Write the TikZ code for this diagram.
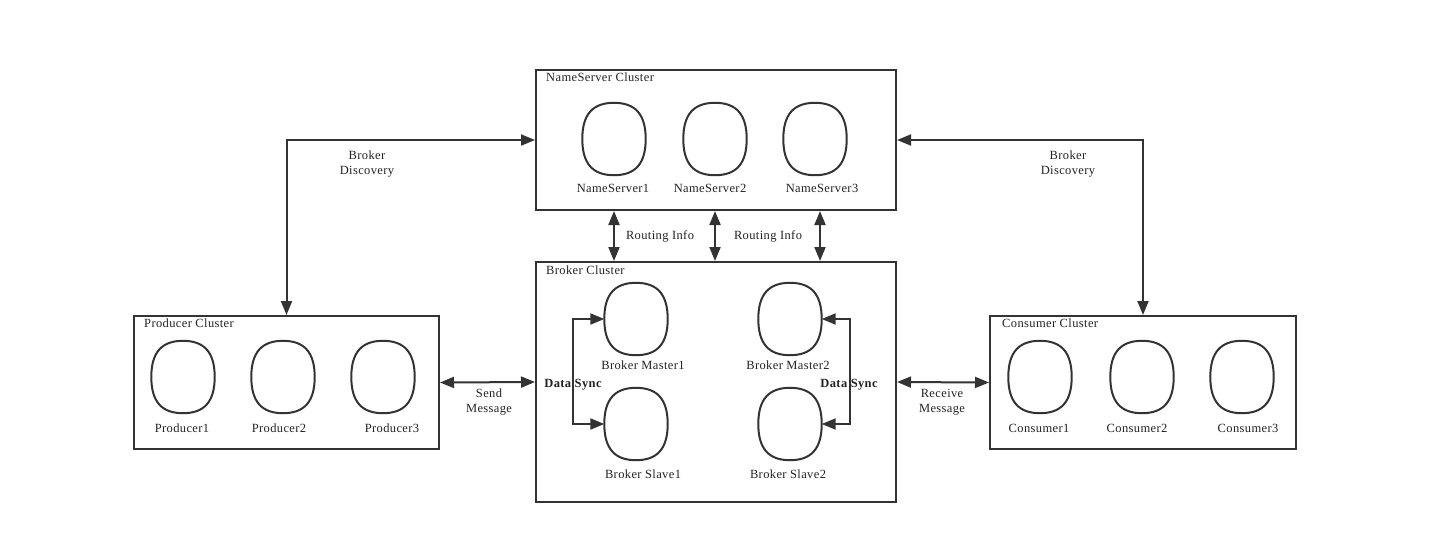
\documentclass[tikz,border=0pt]{standalone}
\usepackage{fontspec}
\setmainfont[LetterSpace=3]{Liberation Serif}
\usetikzlibrary{arrows.meta}
\definecolor{linegray}{HTML}{333333}
\definecolor{txtgray}{HTML}{222222}
% rounded server outline round a named node
\newcommand\srvoval[1]{%
\draw[linegray,line width=2pt] (#1.east)
 .. controls ([yshift=25pt]#1.east) and ([xshift=21pt]#1.north) .. (#1.north)
 .. controls ([xshift=-21pt]#1.north) and ([yshift=25pt]#1.west) .. (#1.west)
 .. controls ([yshift=-25pt]#1.west) and ([xshift=-21pt]#1.south) .. (#1.south)
 .. controls ([xshift=21pt]#1.south) and ([yshift=-25pt]#1.east) .. (#1.east) -- cycle;}

\begin{document}
\begin{tikzpicture}
[%%%%%%%%%%%%%%%%%%%%%%%%%%%%%%
x=1pt,y=-1pt,
cluster/.style={rectangle,draw=linegray,line width=2pt,inner sep=0pt},
srv/.style={rectangle,minimum width=63pt,minimum height=72pt,inner sep=0pt},
lbl/.style={font=\fontsize{12.5}{15}\selectfont,text=txtgray,inner sep=0pt,align=center},
title/.style={lbl,anchor=west},
link/.style={draw=linegray,line width=2pt,{Triangle[length=14pt,width=11pt]}-{Triangle[length=14pt,width=11pt]}},
]%%%%%%%%%%%%%%%%%%%%%%%%%%%%%%
\useasboundingbox (0,0) rectangle (1434,550);

% clusters
\node[cluster,minimum width=360pt,minimum height=140pt] (ns) at (716,140){};
\node[cluster,minimum width=360pt,minimum height=240pt] (brk) at (716,382){};
\node[cluster,minimum width=305pt,minimum height=133pt] (prod) at (286.5,382.5){};
\node[cluster,minimum width=306pt,minimum height=133pt] (cons) at (1143,382.5){};

\node[title] (ns-title) at (546,77){NameServer Cluster};
\node[title] (brk-title) at (546,270){Broker Cluster};
\node[title] (prod-title) at (144,323){Producer Cluster};
\node[title] (cons-title) at (1002,323){Consumer Cluster};

% servers
\foreach \n/\x/\lx/\t in {1/614/613/NameServer1,2/715/710/NameServer2,3/815/822/NameServer3}{
\node[srv] (ns\n) at (\x,139){};
\srvoval{ns\n}
\node[lbl] (ns\n-t) at (\lx,188){\t};
}
\foreach \n/\x/\lx/\t in {1/183/182/Producer1,2/283/279/Producer2,3/383/392/Producer3}{
\node[srv] (p\n) at (\x,377){};
\srvoval{p\n}
\node[lbl] (p\n-t) at (\lx,428){\t};
}
\foreach \n/\x/\lx/\t in {1/1040/1039/Consumer1,2/1142/1137/Consumer2,3/1242/1248/Consumer3}{
\node[srv] (c\n) at (\x,377){};
\srvoval{c\n}
\node[lbl] (c\n-t) at (\lx,428){\t};
}
\foreach \n/\x/\y/\lx/\ly/\t in {bm1/636/319/643/365/Broker Master1,bs1/636/424/643/474/Broker Slave1,
  bm2/790/319/788/365/Broker Master2,bs2/790/424/788/474/Broker Slave2}{
\node[srv] (\n) at (\x,\y){};
\srvoval{\n}
\node[lbl] (\n-t) at (\lx,\ly){\t};
}

% connectors
\draw[link] (ns.west) -| (prod.north);
\draw[link] (ns.east) -| (cons.north);
\node[lbl] (disc-l) at (367,164){Broker\\Discovery};
\node[lbl] (disc-r) at (1068,164){Broker\\Discovery};

\draw[link] (ns1 |- ns.south) -- (ns1 |- brk.north);
\draw[link] (ns2 |- ns.south) -- (ns2 |- brk.north);
\draw[link] ([xshift=5pt]ns3.center |- ns.south) -- ([xshift=5pt]ns3.center |- brk.north);
\node[lbl] (route-a) at (660,236){Routing Info};
\node[lbl] (route-b) at (768,236){Routing Info};

\draw[link] (prod.east) -- (brk.west);
\node[lbl] (send) at (489,402){Send\\Message};
\draw[link] (brk.east) -- (cons.west);
\node[lbl] (recv) at (942,402){Receive\\Message};

\draw[link] (bm1.west) -- ++(-31,0) |- (bs1.west);
\node[lbl,font=\fontsize{12.5}{15}\selectfont\bfseries] (sync-l) at (573,385){Data Sync};
\draw[link] (bm2.east) -- ++(28,0) |- (bs2.east);
\node[lbl,font=\fontsize{12.5}{15}\selectfont\bfseries] (sync-r) at (849,385){Data Sync};
\end{tikzpicture}
\end{document}
